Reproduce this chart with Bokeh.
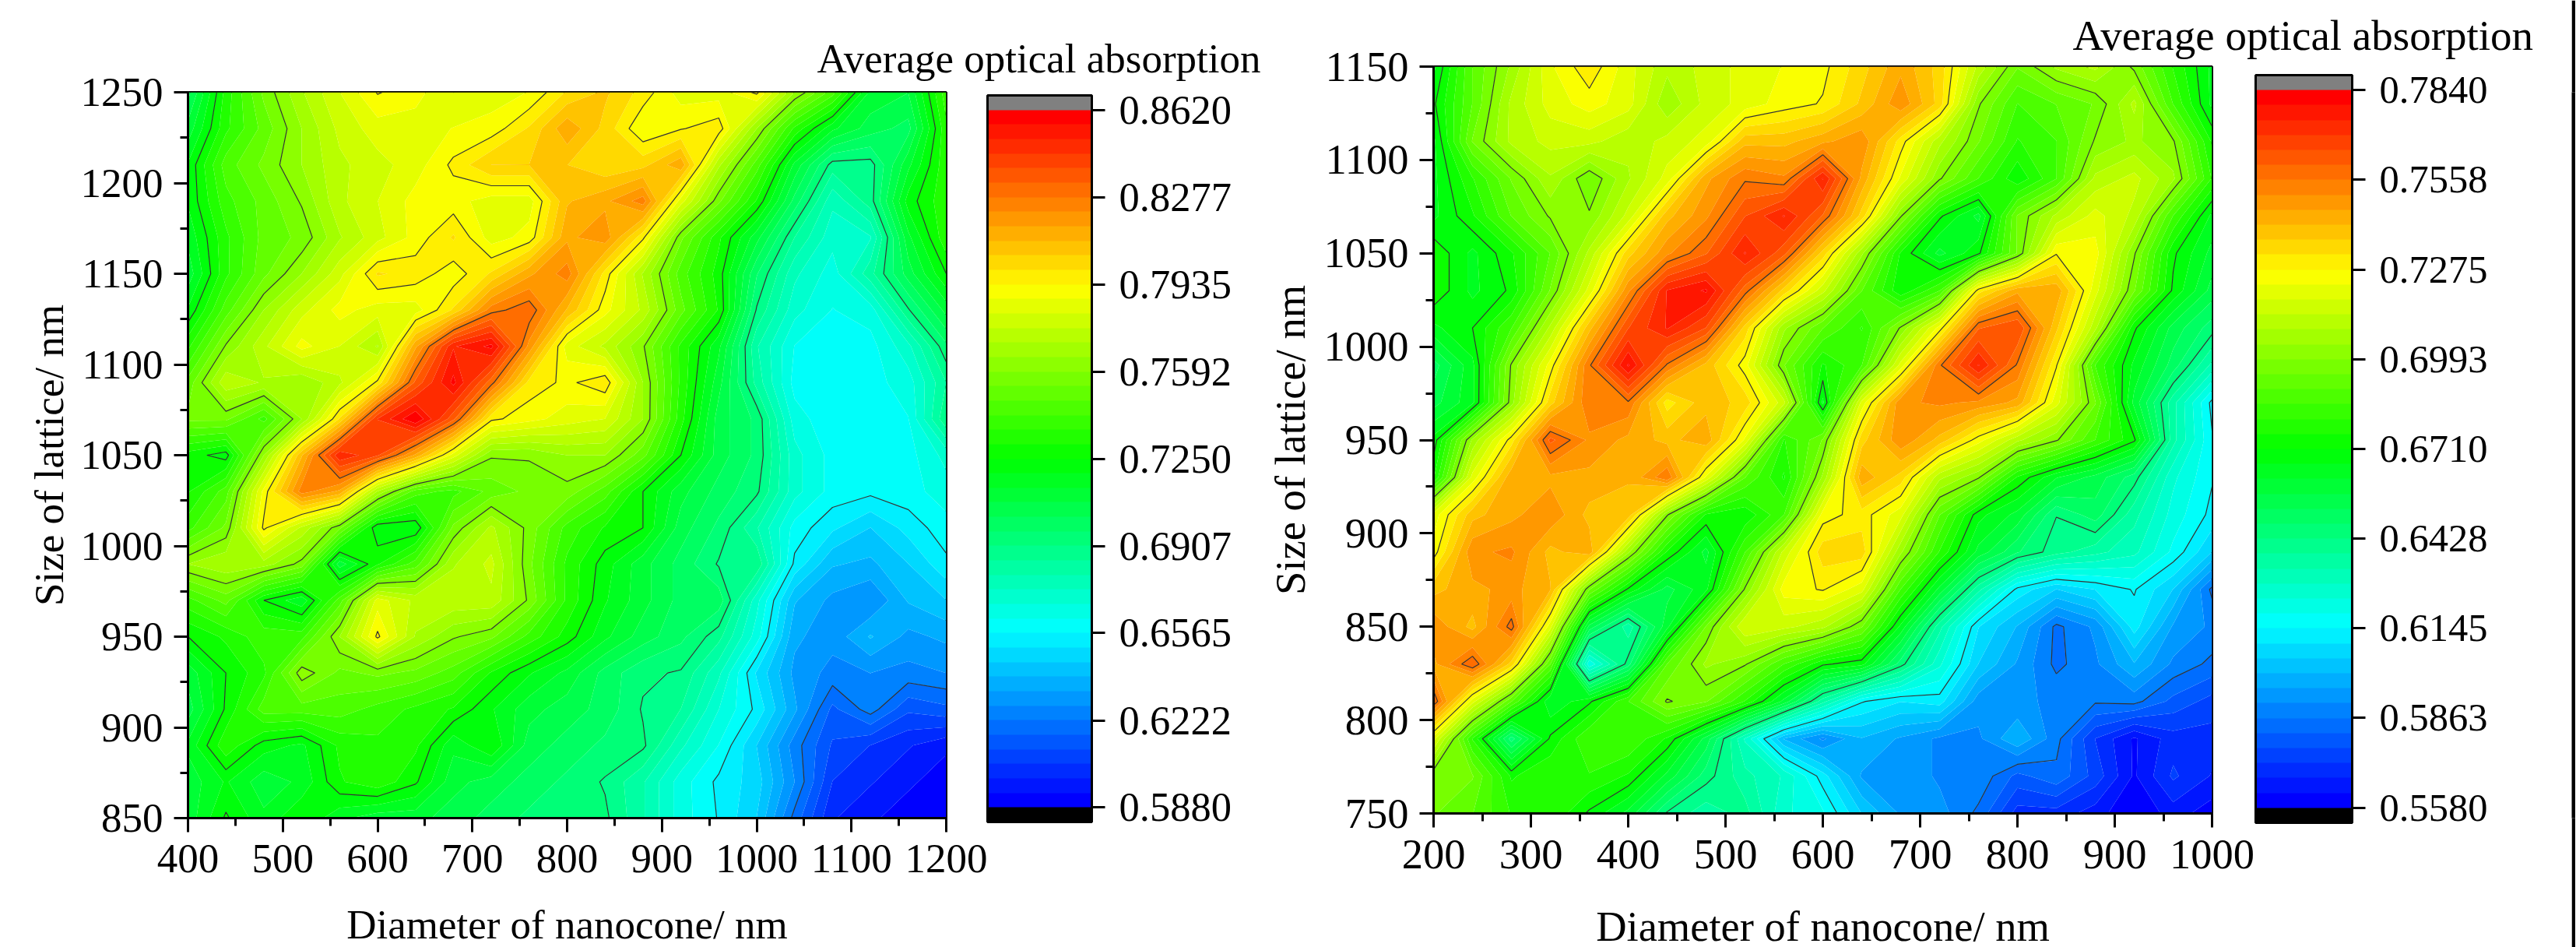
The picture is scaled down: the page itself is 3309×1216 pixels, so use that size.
from bokeh.plotting import figure
from bokeh.layouts import row
from bokeh.models import ColorBar, LinearColorMapper, FixedTicker, NumeralTickFormatter, Title
from bokeh.embed import file_html
from bokeh.resources import INLINE
import numpy as np

# ---------- data (absorption x 1000; rows from the top of each panel) ----------
x1 = list(range(400, 1201, 40))
y1 = list(range(1250, 849, -20))
z1 = [
 [700,733,755,770,782,794,790,782,785,788,800,806,797,785,785,795,765,745,712,708,740],
 [710,735,750,765,778,785,785,788,790,800,815,803,788,793,797,765,735,715,705,700,735],
 [720,745,755,765,775,780,785,795,805,805,805,800,803,815,772,745,712,688,688,712,735],
 [720,740,750,760,775,782,790,790,785,785,810,815,825,785,755,730,700,675,688,722,735],
 [715,735,750,755,770,780,790,800,785,790,815,820,795,755,732,710,685,670,673,712,735],
 [710,735,752,765,780,800,797,790,800,815,825,797,770,745,728,697,675,665,683,705,725],
 [720,745,765,780,790,785,785,800,825,832,810,790,775,750,730,690,670,662,665,690,710],
 [735,760,775,790,782,770,815,850,858,820,785,775,760,735,715,680,662,660,660,672,695],
 [750,775,770,765,775,795,835,858,830,797,792,798,765,735,710,683,660,658,660,665,685],
 [755,755,740,765,800,845,862,835,795,790,785,782,765,733,705,695,665,658,658,662,690],
 [728,722,765,810,850,840,815,785,760,760,765,765,750,725,705,695,670,660,658,660,670],
 [730,745,790,825,815,770,745,740,750,755,757,745,725,710,700,692,670,660,658,660,665],
 [740,755,795,775,755,720,720,755,772,757,740,730,725,705,695,680,660,652,645,653,660],
 [765,770,768,757,710,730,745,770,778,755,735,722,710,700,690,690,655,640,638,645,655],
 [740,750,725,715,745,785,775,775,775,758,735,720,710,700,700,670,640,632,628,640,645],
 [725,732,740,740,765,795,770,760,755,740,728,715,705,698,687,665,635,630,640,632,635],
 [710,725,735,763,752,755,752,745,730,720,712,700,692,690,675,650,632,626,628,626,628],
 [705,726,745,745,745,740,735,730,720,710,705,700,690,685,668,655,635,615,625,612,615],
 [715,735,722,718,732,735,732,715,725,705,700,695,692,675,662,645,625,610,605,600,595],
 [710,720,710,715,730,735,726,710,705,700,695,690,680,665,655,648,628,605,600,595,590],
 [710,726,715,725,715,710,710,705,700,695,691,692,680,665,656,645,620,600,595,590,588],
]
ticks1 = [0.5880, 0.6222, 0.6565, 0.6907, 0.7250, 0.7592, 0.7935, 0.8277, 0.8620]

x2 = list(range(200, 1001, 40))
y2 = list(range(1150, 749, -20))
z2 = [
 [665,690,705,722,731,720,710,715,720,723,726,735,745,735,712,695,705,710,698,680,665],
 [670,690,710,720,725,720,705,715,720,725,728,738,750,735,700,685,690,695,710,685,665],
 [665,695,710,715,715,710,715,720,740,740,745,750,730,710,695,680,685,700,705,700,675],
 [665,680,695,708,695,708,720,745,755,752,775,745,722,700,685,672,685,710,715,705,680],
 [665,675,690,700,700,715,740,750,765,775,760,735,700,672,660,695,710,720,712,685,665],
 [675,665,675,690,710,735,750,760,775,762,735,705,675,660,670,695,727,725,700,672,660],
 [675,665,672,695,720,750,775,780,758,735,715,690,672,685,730,745,745,720,695,670,655],
 [665,671,685,710,740,765,775,765,735,705,690,680,700,725,760,765,738,710,672,655,645],
 [650,665,700,725,755,780,755,740,725,695,675,685,720,755,775,755,728,685,665,650,632],
 [655,665,702,735,755,755,730,740,735,715,665,720,750,752,750,745,720,695,660,635,613],
 [668,705,730,762,750,745,740,745,722,680,695,735,750,740,725,710,700,685,672,635,615],
 [675,720,745,745,745,742,755,722,690,675,705,745,735,710,700,675,662,655,645,625,615],
 [720,740,745,750,740,740,700,675,672,685,725,730,720,690,668,660,643,650,635,622,613],
 [725,750,752,740,745,705,675,660,685,715,735,735,705,680,660,648,640,635,630,618,605],
 [740,745,748,742,695,670,655,665,700,725,728,720,685,660,635,613,605,610,615,605,585],
 [750,740,758,720,655,635,660,695,718,715,710,695,665,635,610,600,585,592,612,595,590],
 [745,760,735,690,620,645,690,705,700,685,672,668,645,625,605,595,585,590,600,590,585],
 [760,720,690,662,670,685,700,695,680,660,635,615,610,612,593,592,590,587,588,580,575],
 [720,680,645,672,685,685,675,655,628,600,590,600,595,590,590,600,588,572,562,570,570],
 [695,695,675,680,680,675,660,645,635,628,612,595,595,590,590,580,585,575,562,573,567],
 [695,690,680,680,670,660,642,635,640,625,620,605,595,593,585,570,570,565,558,565,560],
]
ticks2 = [0.5580, 0.5863, 0.6145, 0.6428, 0.6710, 0.6993, 0.7275, 0.7558, 0.7840]

x_label = "Diameter of nanocone/ nm"
y_label = "Size of lattice/ nm"
bar_title = "Average optical absorption"
FONT = "Liberation Serif"
N_BANDS = 48


def rainbow(n):
    stops = [(0, 0, 255), (0, 255, 255), (0, 255, 0), (255, 255, 0), (255, 0, 0)]
    out = []
    for i in range(n):
        t = i / (n - 1) * 4
        k = min(int(t), 3)
        f = t - k
        c = [round(stops[k][j] + (stops[k + 1][j] - stops[k][j]) * f) for j in range(3)]
        out.append("#%02x%02x%02x" % tuple(c))
    return out


def panel(x, y, z, ticks, xt, xm, yt, ym, left, frame_w, frame_h, top, total_w, bar_left, bar_top, bar_w, bar_h,
          title_gap, title_offset, title_size, ylabel_standoff, xlabel_standoff, axis_size, bar_size):
    total_h = 1249
    p = figure(output_backend="svg", toolbar_location=None,
               frame_width=frame_w, frame_height=frame_h,
               min_border_left=left, min_border_top=top,
               min_border_right=total_w - left - frame_w,
               min_border_bottom=total_h - top - frame_h,
               x_range=(min(x), max(x)), y_range=(min(y), max(y)),
               background_fill_color=None, border_fill_color=None)
    p.grid.visible = False
    p.outline_line_color = "black"
    p.outline_line_width = 3
    colors = rainbow(N_BANDS)
    zz = np.array(z)[::-1] / 1000.0
    yy = y[::-1]
    lo, hi = ticks[0], ticks[-1]
    step = (hi - lo) / N_BANDS
    levels = [lo + i * step for i in range(N_BANDS + 1)]
    fill = p.contour(x, yy, zz, levels, fill_color=colors)
    g = fill.fill_renderer.glyph
    g.line_color = g.fill_color
    g.line_width = 1
    p.contour(x, yy, zz, ticks, line_color="#333333", line_width=1.2)

    for ax, tk, mn in ((p.xaxis[0], xt, xm), (p.yaxis[0], yt, ym)):
        ax.ticker = FixedTicker(ticks=tk, minor_ticks=mn)
        ax.axis_line_width = 3
        ax.major_tick_line_width = 3
        ax.minor_tick_line_width = 3
        ax.major_tick_out = 18
        ax.major_tick_in = 0
        ax.minor_tick_out = 10
        ax.minor_tick_in = 0
        ax.major_label_text_font = FONT
        ax.major_label_text_font_size = axis_size
        ax.major_label_text_color = "black"
        ax.axis_label_text_font = FONT
        ax.axis_label_text_font_size = axis_size
        ax.axis_label_text_font_style = "normal"
        ax.axis_label_text_color = "black"
    p.xaxis.axis_label = x_label
    p.yaxis.axis_label = y_label
    p.xaxis.major_label_standoff = 16
    p.yaxis.major_label_standoff = 14
    p.xaxis.axis_label_standoff = xlabel_standoff
    p.yaxis.axis_label_standoff = ylabel_standoff
    p.yaxis.major_label_orientation = "horizontal"

    palette = ["#000000"] + colors + ["#808080"]
    mapper = LinearColorMapper(palette=palette, low=lo - step, high=hi + step)
    cb = ColorBar(color_mapper=mapper, ticker=FixedTicker(ticks=ticks),
                  formatter=NumeralTickFormatter(format="0.0000"),
                  width=bar_w, height=bar_h, padding=0, margin=0,
                  location=(bar_left - left, top + frame_h - (bar_top + bar_h)),
                  major_tick_out=17, major_tick_in=0, major_tick_line_color="black", major_tick_line_width=3,
                  minor_tick_line_color=None,
                  major_label_text_font=FONT, major_label_text_font_size=bar_size, major_label_text_color="black",
                  label_standoff=18, bar_line_color="black", bar_line_width=3,
                  background_fill_color=None, border_line_color=None)
    p.add_layout(cb, "center")
    p.add_layout(Title(text=bar_title, align="left", offset=title_offset, standoff=title_gap,
                       text_font=FONT, text_font_size=title_size, text_font_style="normal", text_color="black"), "above")
    return p


pa = panel(x1, y1, z1, ticks1, list(range(400, 1201, 100)), list(range(450, 1200, 100)),
           list(range(850, 1251, 50)), list(range(875, 1250, 50)),
           left=241, frame_w=974, frame_h=932, top=118, total_w=1622,
           bar_left=1268, bar_top=122, bar_w=134, bar_h=933, title_gap=30, title_offset=808, title_size="53px",
           ylabel_standoff=9, xlabel_standoff=35, axis_size="53px", bar_size="52.5px")
pb = panel(x2, y2, z2, ticks2, list(range(200, 1001, 100)), list(range(250, 1000, 100)),
           list(range(750, 1151, 50)), list(range(775, 1150, 50)),
           left=219, frame_w=1000, frame_h=959, top=118, total_w=1681,
           bar_left=1275, bar_top=129, bar_w=124, bar_h=960, title_gap=19, title_offset=821, title_size="55px",
           ylabel_standoff=10, xlabel_standoff=41, axis_size="54.5px", bar_size="50.5px")
pb.styles = {"position": "relative", "top": "-33px"}

edge = figure(output_backend="svg", toolbar_location=None, width=5, height=1249, min_border=0,
              border_fill_color="black", background_fill_color="black", outline_line_color=None)
edge.axis.visible = False
edge.grid.visible = False

layout = row(pa, pb, edge, spacing=0)
open("out.html", "w").write(file_html(layout, INLINE))
